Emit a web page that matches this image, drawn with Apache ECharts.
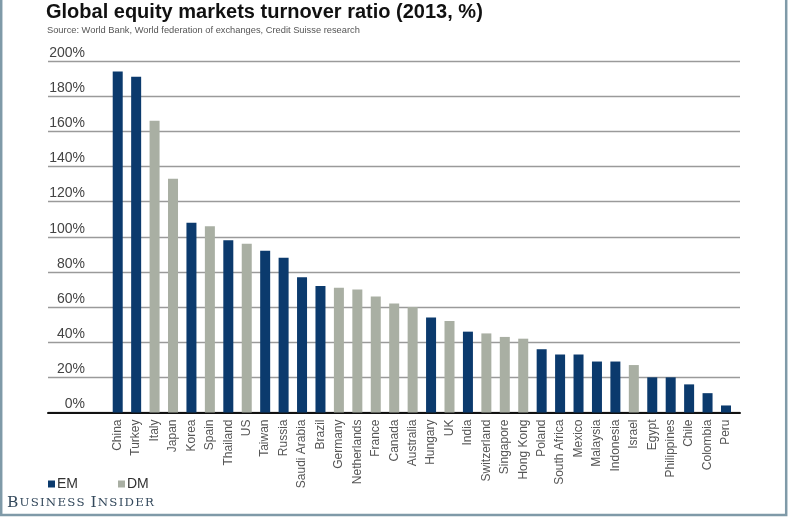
<!DOCTYPE html>
<html>
<head>
<meta charset="utf-8">
<script src="https://cdn.jsdelivr.net/npm/echarts@6/dist/echarts.min.js"></script>
<style>
html,body{margin:0;padding:0;background:#fff;}
#chart{width:789px;height:518px;}
</style>
</head>
<body>
<div id="chart"></div>
<script>
var countries = ['China','Turkey','Italy','Japan','Korea','Spain','Thailand','US','Taiwan','Russia','Saudi Arabia','Brazil','Germany','Netherlands','France','Canada','Australia','Hungary','UK','India','Switzerland','Singapore','Hong Kong','Poland','South Africa','Mexico','Malaysia','Indonesia','Israel','Egypt','Philippines','Chile','Colombia','Peru'];
var turnover = [194,191,166,133,108,106,98,96,92,88,77,72,71,70,66,62,60,54,52,46,45,43,42,36,33,33,29,29,27,20,20,16,11,4];
var groups = ['EM','EM','DM','DM','EM','DM','EM','DM','EM','EM','EM','EM','DM','DM','DM','DM','DM','EM','DM','EM','DM','DM','DM','EM','EM','EM','EM','EM','DM','EM','EM','EM','EM','EM'];
var yTicks = [0,20,40,60,80,100,120,140,160,180,200];
var titleText = 'Global equity markets turnover ratio (2013, %)';
var sourceText = 'Source: World Bank, World federation of exchanges, Credit Suisse research';

var emData = turnover.map(function(v,i){ return groups[i]==='EM' ? v : '-'; });
var dmData = turnover.map(function(v,i){ return groups[i]==='DM' ? v : '-'; });

function brand(str){
  var out = '';
  var words = str.split(' ');
  words.forEach(function(w, wi){
    for (var i=0;i<w.length;i++){
      out += '{' + (i===0 ? 'a' : 'b') + '|' + w[i] + '}';
    }
    if (wi < words.length-1) out += '{s| }';
  });
  return out;
}

var chart = echarts.init(document.getElementById('chart'), null, {renderer:'canvas'});
var TOP = 61, BOTTOM = 105.5;
chart.setOption({
  animation:false,
  backgroundColor:'#fff',
  grid:[
    {left:48, right:49, top:TOP, bottom:BOTTOM},
    {left:108.5, right:53.8, top:TOP, bottom:BOTTOM}
  ],
  legend:{
    left:48, top:477, padding:0, itemWidth:7, itemHeight:7, itemGap:40, icon:'rect',
    textStyle:{fontFamily:'Liberation Sans, Arial', fontSize:14, color:'#333', padding:[0,0,0,-3]},
    data:['EM','DM']
  },
  xAxis:[
    {gridIndex:0, type:'value', min:0, max:1, axisLine:{show:true, onZero:false, lineStyle:{color:'#111', width:2}}, axisTick:{show:false}, axisLabel:{show:false}, splitLine:{show:false}},
    {gridIndex:1, type:'category', data:countries, axisLine:{show:false}, axisTick:{show:false},
     axisLabel:{interval:0, rotate:90, margin:7, fontFamily:'Liberation Sans, Arial', fontSize:12, color:'#555'}}
  ],
  yAxis:[
    {gridIndex:0, type:'value', min:yTicks[0], max:yTicks[yTicks.length-1], interval:20,
     axisLine:{show:false}, axisTick:{show:false},
     axisLabel:{inside:true, margin:37, align:'right', verticalAlign:'bottom', padding:[0,0,1,0], fontFamily:'Liberation Sans, Arial', fontSize:14, color:'#444', formatter:'{value}%'},
     splitLine:{show:true, lineStyle:{color:'#9a9a9a', width:1.3}}},
    {gridIndex:1, type:'value', min:0, max:200, show:false, splitLine:{show:false}}
  ],
  series:[
    {name:'EM', type:'bar', xAxisIndex:1, yAxisIndex:1, data:emData, barWidth:10, barGap:'-100%', itemStyle:{color:'#0b3a6d'}},
    {name:'DM', type:'bar', xAxisIndex:1, yAxisIndex:1, data:dmData, barWidth:10, barGap:'-100%', itemStyle:{color:'#a9afa3'}}
  ],
  graphic:[
    {type:'text', left:46, top:2, style:{text:titleText, fontFamily:'Liberation Sans, Arial', fontWeight:'bold', fontSize:20, fill:'#111'}},
    {type:'text', left:47, top:26, style:{text:sourceText, fontFamily:'Liberation Sans, Arial', fontSize:9.3, fill:'#555'}},
    {type:'text', left:7, top:495, style:{text:brand('BUSINESS INSIDER'), fontFamily:'DejaVu Serif', fill:'#34495c',
      rich:{
        a:{fontFamily:'DejaVu Serif', fontSize:15.5, fill:'#34495c', padding:[0,1.2,0,0]},
        b:{fontFamily:'DejaVu Serif', fontSize:11.8, fill:'#34495c', padding:[0,1.2,0,0]},
        s:{fontFamily:'DejaVu Serif', fontSize:11.8, padding:[0,1,0,0]}
      }}},
    {type:'rect', shape:{x:1.2, y:-10, width:785, height:525}, style:{fill:'none', stroke:'#7f9aa8', lineWidth:2.5}, silent:true}
  ]
});
</script>
</body>
</html>
